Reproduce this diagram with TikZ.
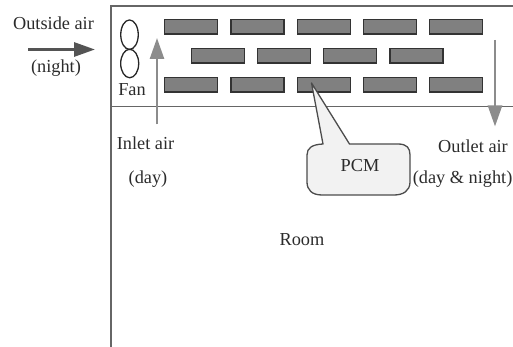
\documentclass[tikz,border=0pt]{standalone}
\usepackage{fontspec}
\setmainfont{Liberation Serif}
\usetikzlibrary{arrows.meta,shapes.geometric}
\definecolor{txt}{gray}{0.17}
\definecolor{blockfill}{gray}{0.5}
\definecolor{blockline}{gray}{0.2}
\definecolor{arrowgray}{gray}{0.55}
\definecolor{arrowdark}{gray}{0.33}
\definecolor{framegray}{gray}{0.4}
\definecolor{calloutfill}{gray}{0.95}
\tikzset{
  lbl/.style={font=\fontsize{18.3}{20}\selectfont, text=txt, inner sep=0pt},
  block/.style={draw=blockline, fill=blockfill, line width=1.4pt, minimum width=53pt, minimum height=14.4pt, inner sep=0pt, anchor=north west},
  wall/.style={draw=framegray, line width=1.8pt},
  fanblade/.style={draw=black!85, line width=1.3pt},
  flowlight/.style={draw=arrowgray, line width=2.6pt, -{Triangle[length=21pt,width=14pt]}},
  flowdark/.style={draw=arrowdark, line width=3pt, -{Triangle[length=21pt,width=14pt]}},
  callout/.style={draw=black!70, fill=calloutfill, line width=1.3pt, line join=round}
}
\begin{document}
\begin{tikzpicture}[x=1pt,y=-1pt]
\useasboundingbox (0,0) rectangle (513,347);
\clip (0,0) rectangle (513,347);
% frame
\coordinate (wallBL) at (111,347);
\coordinate (wallTL) at (111,6);
\coordinate (wallTR) at (513,6);
\coordinate (divL) at (111,106.5);
\coordinate (divR) at (513,106.5);
\draw[wall] (wallBL) -- (wallTL) -- (wallTR);
\draw[wall] (divL) -- (divR);
% PCM blocks
\foreach \n/\x in {a/164,b/230.3,c/296.7,d/362.8,e/429}{
  \node[block] (top\n) at (\x,19) {};
  \node[block] (bot\n) at (\x,76.8) {};
}
\foreach \n/\x in {a/191,b/257,c/323,d/389.3}{
  \node[block] (mid\n) at (\x,47.8) {};
}
% fan
\node[fanblade, ellipse, minimum width=17.5pt, minimum height=29.5pt, inner sep=0pt] (fanA) at (129.5,34.7) {};
\node[fanblade, ellipse, minimum width=18pt, minimum height=28.5pt, inner sep=0pt] (fanB) at (129.7,63.5) {};
% arrows
\coordinate (outS) at (28,49.5);
\coordinate (outE) at (95,49.5);
\coordinate (inS) at (157,124.5);
\coordinate (inE) at (157,38);
\coordinate (exS) at (495,40);
\coordinate (exE) at (495,126.5);
\draw[flowdark] (outS) -- (outE);
\draw[flowlight] (inS) -- (inE);
\draw[flowlight] (exS) -- (exE);
% callout
\coordinate (tip) at (311.5,83);
\draw[callout] (tip) -- (349.5,144) -- (398,144)
  .. controls (407,144) and (410,148) .. (410,155)
  -- (410,182)
  .. controls (410,191) and (403,195) .. (394,195)
  -- (322,195)
  .. controls (312,195) and (307,190) .. (307,182)
  -- (307,155)
  .. controls (307,148) and (312,144.5) .. (323,144)
  -- cycle;
% labels
\node[lbl] (outside) at (53.5,23.5) {Outside air};
\node[lbl] (night) at (56,68) {(night)};
\node[lbl] (fan) at (132,90) {Fan};
\node[lbl] (inlet) at (145.5,143.5) {Inlet air};
\node[lbl] (day) at (148,179.5) {(day)};
\node[lbl] (room) at (302,240) {Room};
\node[lbl] (pcm) at (360,166) {PCM};
\node[lbl] (outlet) at (473,146) {Outlet air};
\node[lbl, anchor=east] (daynight) at (512.6,179.5) {(day \& night)};
\end{tikzpicture}
\end{document}
